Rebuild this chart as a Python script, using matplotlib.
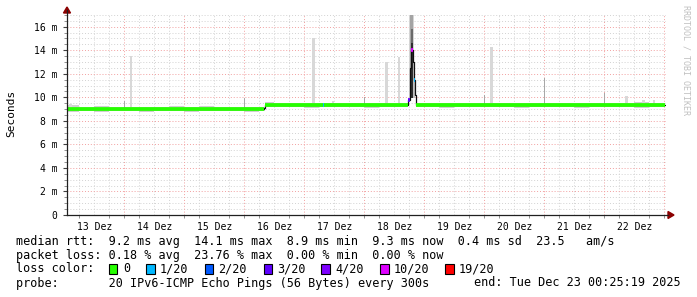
import numpy as np
import matplotlib
matplotlib.use("Agg")
import matplotlib.pyplot as plt
from matplotlib.patches import Polygon, Rectangle

# ---------------- data (time = days since 13 Dez 00:00, values in ms) -------------
day_labels = ["13 Dez", "14 Dez", "15 Dez", "16 Dez", "17 Dez",
              "18 Dez", "19 Dez", "20 Dez", "21 Dez", "22 Dez"]
ytick_vals = [0, 2, 4, 6, 8, 10, 12, 14, 16]
ytick_labels = ["0", "2 m", "4 m", "6 m", "8 m", "10 m", "12 m", "14 m", "16 m"]

t_start = 0.045
t_end = 10.017

# median rtt, step segments
med_start = [0.045, 3.33, 3.35, 4.31, 4.335, 5.728, 5.758, 5.775, 5.808, 5.825, 5.842, 5.855]
med_value = [8.97, 9.12, 9.32, 9.32, 9.32, 9.80, 12.5, 14.05, 13.0, 11.5, 10.2, 9.32]
med_loss = [0, -1, 0, 1, 0, 3, -1, 5, -1, 1, -1, 0]   # index in loss_levels, -1 = none

loss_levels = ["0", "1/20", "2/20", "3/20", "4/20", "10/20", "19/20"]
loss_colors = ["#26ff00", "#00b8ff", "#0059ff", "#5e00ff", "#7e00ff", "#dd00ff", "#ff0000"]

# smoke (spread of the pings) per bin
smoke_start = [0.045, 0.25, 0.5, 0.75, 1.0, 1.25, 1.5, 1.75, 2.0, 2.25, 2.5, 2.75, 3.0, 3.25,
               3.35, 3.5, 3.75, 4.0, 4.25, 4.5, 4.75, 5.0, 5.25, 5.5, 5.728,
               5.855, 6.0, 6.25, 6.5, 6.75, 7.0, 7.25, 7.5, 7.75, 8.0, 8.25, 8.5, 8.75,
               9.0, 9.25, 9.5, 9.75]
smoke_hi = [9.35, 9.2, 9.25, 9.15, 9.2, 9.15, 9.2, 9.25, 9.2, 9.25, 9.2, 9.2, 9.2, 9.15,
            9.6, 9.55, 9.5, 9.5, 9.5, 9.55, 9.5, 9.5, 9.55, 9.5, 9.32,
            9.5, 9.55, 9.5, 9.5, 9.55, 9.5, 9.5, 9.55, 9.5, 9.5, 9.55, 9.5, 9.5,
            9.55, 9.5, 9.6, 9.55]
smoke_lo = [8.75, 8.8, 8.75, 8.8, 8.8, 8.75, 8.8, 8.8, 8.75, 8.8, 8.8, 8.8, 8.75, 8.8,
            9.15, 9.15, 9.15, 9.1, 9.15, 9.15, 9.15, 9.1, 9.15, 9.15, 9.32,
            9.15, 9.15, 9.1, 9.15, 9.15, 9.15, 9.15, 9.1, 9.15, 9.15, 9.15, 9.1, 9.15,
            9.15, 9.15, 9.1, 9.15]

# burst of 18 Dez (layered smoke)
burst_start = [5.745, 5.765, 5.81, 5.77, 5.77]
burst_end = [5.825, 5.81, 5.85, 5.805, 5.805]
burst_lo = [9.9, 10.0, 9.9, 14.6, 9.9]
burst_hi = [17.0, 17.0, 13.0, 15.8, 14.6]

# single max-ping spikes
spike_wide_day = [0.1, 1.11, 4.15, 4.48, 5.37, 5.58, 7.12, 9.37, 9.65, 9.83]
spike_wide_max = [9.4, 13.5, 15.0, 9.7, 13.0, 13.4, 14.3, 10.1, 9.8, 9.8]
spike_thin_day = [1.0, 3.0, 5.0, 7.0, 8.0, 9.0]
spike_thin_max = [9.7, 9.9, 10.0, 10.2, 11.6, 10.4]

stat_lines = [
    "median rtt:  9.2 ms avg  14.1 ms max  8.9 ms min  9.3 ms now  0.4 ms sd  23.5   am/s",
    "packet loss: 0.18 % avg  23.76 % max  0.00 % min  0.00 % now",
]
probe_text = "probe:       20 IPv6-ICMP Echo Pings (56 Bytes) every 300s"
end_text = "end: Tue Dec 23 00:25:19 2025"

# ---------------- figure ----------------
W, H = 697, 297
fig = plt.figure(figsize=(W / 100, H / 100), dpi=100)
fig.patch.set_facecolor("white")
MONO = "DejaVu Sans Mono"

x0, x1, ytop, ybot = 67, 665.5, 14, 215
ax = fig.add_axes([x0 / W, 1 - ybot / H, (x1 - x0) / W, (ybot - ytop) / H])
ax.set_xlim(t_start, 10.02)
ax.set_ylim(0, 17.08)
ax.set_facecolor("white")
for s in ax.spines.values():
    s.set_visible(False)

# grid
for k in range(1, 41):
    t = k * 0.25
    if k % 4 == 0:
        ax.axvline(t, color="#f2a0a0", lw=0.7, ls=(0, (1, 2)), zorder=0.5)
    else:
        ax.axvline(t, color="#d2d2d2", lw=0.7, ls=(0, (1, 2)), zorder=0.4)
for k in range(1, 35):
    v = k * 0.5
    if k % 4 == 0:
        ax.axhline(v, color="#f2a0a0", lw=0.7, ls=(0, (1, 2)), zorder=0.5)
    else:
        ax.axhline(v, color="#d2d2d2", lw=0.7, ls=(0, (1, 2)), zorder=0.4)

# smoke
sm_edges = smoke_start + [t_end]
sm_w = np.diff(sm_edges)
ax.bar(smoke_start, np.array(smoke_hi) - np.array(smoke_lo), bottom=smoke_lo,
       width=sm_w, align="edge", color="#d0d0d0", linewidth=0, zorder=1)

# spikes
base_wide = [9.0 if d < 3.35 else 9.3 for d in spike_wide_day]
ax.bar(spike_wide_day, np.array(spike_wide_max) - np.array(base_wide), bottom=base_wide,
       width=0.045, color="#d8d8d8", linewidth=0, zorder=1.1)
base_thin = [9.0 if d < 3.35 else 9.3 for d in spike_thin_day]
ax.bar(spike_thin_day, np.array(spike_thin_max) - np.array(base_thin), bottom=base_thin,
       width=0.018, color="#a8a8a8", linewidth=0, zorder=1.1)

# burst
burst_shades = ["#d4d4d4", "#a4a4a4", "#c0c0c0", "#6a6a6a", "#2e2e2e"]
for s0, s1, lo, hi, c in zip(burst_start, burst_end, burst_lo, burst_hi, burst_shades):
    ax.bar([s0], [hi - lo], bottom=[lo], width=[s1 - s0], align="edge", color=c,
           linewidth=0, zorder=1.2)

# median line
med_end = med_start[1:] + [t_end]
xs, ys = [], []
for s0, s1, v in zip(med_start, med_end, med_value):
    xs += [s0, s1]
    ys += [v, v]
ax.plot(xs, ys, color="#101010", lw=0.9, zorder=2)
for s0, s1, v, li in zip(med_start, med_end, med_value, med_loss):
    if li >= 0:
        ax.plot([s0, s1], [v, v], color=loss_colors[li], lw=2.7,
                solid_capstyle="butt", zorder=3)

# ticks
ax.set_yticks(ytick_vals, ytick_labels)
ax.set_yticks(np.arange(0, 17.01, 0.5), minor=True)
ax.set_xticks([i + 0.5 for i in range(10)], day_labels)
ax.set_xticks(np.arange(0.25, 10.01, 0.25), minor=True)
ax.tick_params(axis="y", which="major", length=3, width=0.8, color="#404040",
               pad=4, labelsize=7, direction="out")
ax.tick_params(axis="y", which="minor", length=2, width=0.6, color="#808080", direction="out")
ax.tick_params(axis="x", which="major", length=0, pad=5, labelsize=7)
ax.tick_params(axis="x", which="minor", length=2, width=0.6, color="#808080", direction="out")
for lab in ax.get_xticklabels() + ax.get_yticklabels():
    lab.set_fontfamily(MONO)

# axes lines & arrows (figure pixel coordinates)
def fx(px):
    return px / W

def fy(py):
    return 1 - py / H

fig.add_artist(plt.Line2D([fx(67), fx(668)], [fy(215), fy(215)], color="#202020", lw=0.9))
fig.add_artist(plt.Line2D([fx(67), fx(67)], [fy(215), fy(10)], color="#202020", lw=0.9))
fig.add_artist(Polygon([[fx(668), fy(211.5)], [fx(674), fy(215)], [fx(668), fy(218.5)]],
                       closed=True, color="#8b0000", transform=fig.transFigure))
fig.add_artist(Polygon([[fx(63.5), fy(13)], [fx(67), fy(7)], [fx(70.5), fy(13)]],
                       closed=True, color="#8b0000", transform=fig.transFigure))

# labels
fig.text(fx(11), fy(113), "Seconds", rotation=90, ha="center", va="center",
         fontsize=8, family=MONO)
fig.text(fx(686), fy(5), "RRDTOOL / TOBI OETIKER", rotation=270, ha="center", va="top",
         fontsize=6, family=MONO, color="#c0c0c0")

# legend block
fs = 8.5
fig.text(fx(16), fy(241), stat_lines[0], ha="left", va="center", fontsize=fs, family=MONO)
fig.text(fx(16), fy(255), stat_lines[1], ha="left", va="center", fontsize=fs, family=MONO)
fig.text(fx(16), fy(269), "loss color:", ha="left", va="center", fontsize=fs, family=MONO)
box_x = [108.5, 146, 204.5, 263.5, 321, 380, 445]
lab_x = [123, 159.5, 218.5, 277, 335, 394, 459]
for bx, lx, c, lab in zip(box_x, lab_x, loss_colors, loss_levels):
    fig.add_artist(Rectangle((fx(bx), fy(274)), 8.5 / W, 10 / H, transform=fig.transFigure,
                             facecolor=c, edgecolor="black", lw=0.8))
    fig.text(fx(lx), fy(269), lab, ha="left", va="center", fontsize=fs, family=MONO)
fig.text(fx(16), fy(283), probe_text, ha="left", va="center", fontsize=fs, family=MONO)
fig.text(fx(681), fy(283), end_text, ha="right", va="center", fontsize=fs, family=MONO)

fig.savefig("out.png", dpi=100, facecolor="white")
